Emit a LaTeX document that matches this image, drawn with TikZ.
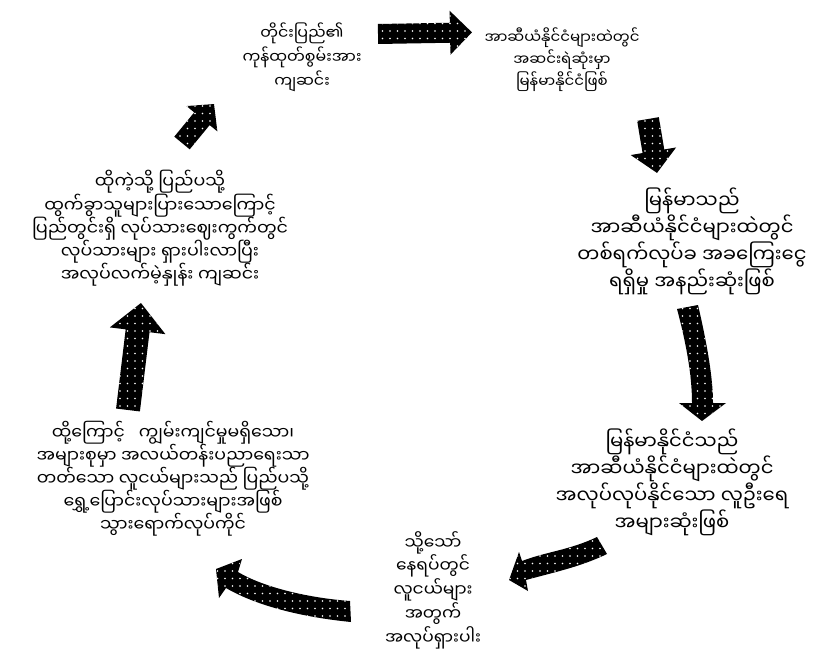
\documentclass[tikz,border=0pt]{standalone}
\usepackage{fontspec}
\newfontfamily\mmfont[Script=Myanmar]{Noto Sans Myanmar UI}
\usetikzlibrary{patterns.meta}
\tikzset{
  arrowfill/.style={fill=black, postaction={pattern={Dots[distance=7.5pt,radius=0.9pt]}, pattern color=white}},
  txt/.style={align=center, inner sep=0pt},
}
\newlength\mmwd
\newcommand\fitsize[3]{\settowidth\mmwd{\mmfont\fontsize{10}{12}\selectfont #3}\pgfmathsetmacro#1{10*#2/\mmwd}}
\AtBeginDocument{%
\fitsize{\fszA}{119}{ကုန်ထုတ်စွမ်းအား}%
\fitsize{\fszB}{155}{အာဆီယံနိုင်ငံများထဲတွင်}%
\fitsize{\fszC}{203}{အာဆီယံနိုင်ငံများထဲတွင်}%
\fitsize{\fszE}{96}{အလုပ်ရှားပါး}%
\fitsize{\fszF}{273}{အများစုမှာ အလယ်တန်းပညာရေးသာ}%
\fitsize{\fszG}{256}{ပြည်တွင်းရှိ လုပ်သားဈေးကွက်တွင်}%
}
\newcommand\blockarr[7]{%
  \begin{scope}[shift={(#1,#2)},rotate=#3]
    \path[arrowfill] (0,-#5) -- ({#4-#7},-#5) -- ({#4-#7},-#6) -- (#4,0) -- ({#4-#7},#6) -- ({#4-#7},#5) -- (0,#5) -- cycle;
  \end{scope}}
\begin{document}
\begin{tikzpicture}[x=1pt,y=-1pt]
\useasboundingbox (0,0) rectangle (826,661);
% texts
\node[txt, font=\mmfont\fontsize{\fszA}{24}\selectfont] (t1) at (302,57) {တိုင်းပြည်၏\\ကုန်ထုတ်စွမ်းအား\\ကျဆင်း};
\node[txt, font=\mmfont\fontsize{\fszB}{22}\selectfont] (t2) at (562,60) {အာဆီယံနိုင်ငံများထဲတွင်\\အဆင်းရဲဆုံးမှာ\\မြန်မာနိုင်ငံဖြစ်};
\node[txt, font=\mmfont\fontsize{\fszC}{24}\selectfont] (t3) at (692,241) {မြန်မာသည်\\အာဆီယံနိုင်ငံများထဲတွင်\\တစ်ရက်လုပ်ခ အခကြေးငွေ\\ရရှိမှု အနည်းဆုံးဖြစ်};
\node[txt, font=\mmfont\fontsize{\fszC}{24.3}\selectfont] (t4) at (672,482) {မြန်မာနိုင်ငံသည်\\အာဆီယံနိုင်ငံများထဲတွင်\\အလုပ်လုပ်နိုင်သော လူဦးရေ\\အများဆုံးဖြစ်};
\node[txt, font=\mmfont\fontsize{\fszE}{23.8}\selectfont] (t5) at (433,590) {သို့သော်\\နေရပ်တွင်\\လူငယ်များ\\အတွက်\\အလုပ်ရှားပါး};
\node[txt, font=\mmfont\fontsize{\fszF}{23}\selectfont] (t6) at (173,479) {ထို့ကြောင့်\hspace{0.8em}ကျွမ်းကျင်မှုမရှိသော၊\\အများစုမှာ အလယ်တန်းပညာရေးသာ\\တတ်သော လူငယ်များသည် ပြည်ပသို့\\ရွှေ့ပြောင်းလုပ်သားများအဖြစ်\\သွားရောက်လုပ်ကိုင်};
\node[txt, font=\mmfont\fontsize{\fszG}{23.25}\selectfont] (t7) at (160,228.5) {ထိုကဲ့သို့ ပြည်ပသို့\\ထွက်ခွာသူများပြားသောကြောင့်\\ပြည်တွင်းရှိ လုပ်သားဈေးကွက်တွင်\\လုပ်သားများ ရှားပါးလာပြီး\\အလုပ်လက်မဲ့နှုန်း ကျဆင်း};
% arrows
\blockarr{378}{34}{1}{94}{10}{22}{22}
\blockarr{648}{119}{-80.5}{54.7}{11}{23}{22}
\blockarr{182}{143}{50.6}{50.4}{10}{20}{19}
\blockarr{128}{410}{83.1}{107.8}{12}{28}{28}
% curved arrow right (down)
\path[arrowfill] (677,309) .. controls (688,350) and (692,380) .. (692,403)
  -- (679,403) -- (702,421) -- (726,403) -- (713,403)
  .. controls (713,380) and (708,348) .. (698,305) -- cycle;
% curved arrow lower right (down-left)
\path[arrowfill] (597,537) .. controls (570,550) and (545,552) .. (522,561)
  -- (519,552) -- (509,580) -- (528,591) -- (526,580)
  .. controls (555,572) and (580,567) .. (607,554) -- cycle;
% curved arrow bottom (up-left)
\path[arrowfill] (350,601) .. controls (310,598) and (265,588) .. (238,572)
  -- (242,559) -- (216,569) -- (219,598) -- (226,588)
  .. controls (255,605) and (300,617) .. (351,622) -- cycle;
\end{tikzpicture}
\end{document}
